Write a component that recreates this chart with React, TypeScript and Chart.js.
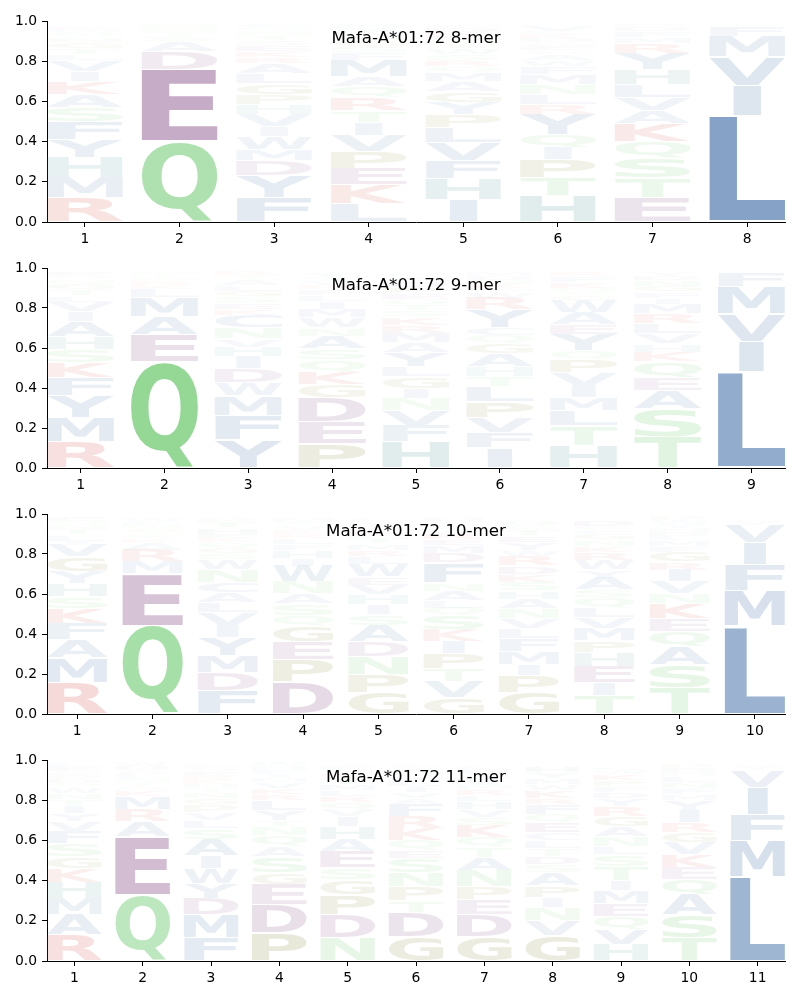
import React, { useEffect, useRef } from "react";
import { Chart, registerables } from "chart.js";

Chart.register(...registerables);

type Stack = [string, number][];

const titles = ["Mafa-A*01:72 8-mer", "Mafa-A*01:72 9-mer", "Mafa-A*01:72 10-mer", "Mafa-A*01:72 11-mer"];
const yTicks = [0, 0.2, 0.4, 0.6, 0.8, 1.0];

// Each position: letters from bottom to top with their heights (probabilities)
const mer8: Stack[] = [
  [["R", .12], ["M", .10], ["H", .10], ["Y", .09], ["F", .09], ["S", .07], ["A", .065], ["K", .065], ["I", .05], ["V", .055], ["L", .03], ["T", .03], ["G", .03], ["N", .025], ["Q", .02], ["W", .015], ["E", .015], ["C", .01]],
  [["Q", .40], ["E", .36], ["D", .09], ["A", .05], ["S", .025], ["T", .02], ["N", .02], ["G", .015], ["M", .01]],
  [["F", .12], ["Y", .11], ["D", .075], ["M", .055], ["W", .065], ["I", .05], ["V", .06], ["H", .05], ["P", .05], ["G", .055], ["L", .05], ["A", .05], ["R", .03], ["K", .03], ["E", .03], ["S", .025], ["T", .025], ["N", .02], ["Q", .02], ["C", .015]],
  [["L", .09], ["K", .095], ["E", .08], ["P", .085], ["V", .08], ["I", .065], ["T", .06], ["R", .065], ["Q", .055], ["A", .05], ["M", .08], ["F", .04], ["S", .03], ["G", .03], ["N", .02], ["W", .02], ["Y", .02], ["H", .02]],
  [["I", .11], ["H", .105], ["F", .09], ["V", .09], ["L", .075], ["P", .065], ["Y", .06], ["G", .055], ["A", .05], ["M", .045], ["Q", .03], ["R", .03], ["S", .03], ["W", .03], ["T", .02], ["N", .02], ["E", .02], ["K", .02], ["D", .02], ["C", .02]],
  [["H", .13], ["T", .09], ["P", .09], ["I", .06], ["Q", .065], ["Y", .10], ["R", .05], ["L", .05], ["N", .05], ["M", .05], ["F", .04], ["W", .03], ["A", .03], ["S", .02], ["E", .02], ["G", .02], ["D", .02], ["K", .02], ["C", .015], ["V", .03]],
  [["E", .12], ["T", .10], ["S", .10], ["Q", .08], ["K", .09], ["A", .065], ["V", .065], ["L", .065], ["H", .075], ["Y", .08], ["R", .05], ["M", .03], ["F", .03], ["D", .02], ["G", .02]],
  [["L", .53], ["I", .15], ["V", .145], ["M", .10], ["F", .05], ["Y", .01], ["C", .01]],
];

const mer9: Stack[] = [
  [["R", .13], ["M", .12], ["Y", .11], ["F", .09], ["K", .075], ["S", .065], ["H", .065], ["A", .075], ["I", .05], ["V", .05], ["L", .03], ["T", .03], ["G", .03], ["N", .02], ["Q", .02], ["E", .02]],
  [["Q", .53], ["E", .135], ["A", .09], ["M", .095], ["L", .045], ["K", .02], ["R", .02], ["S", .02], ["T", .015], ["N", .015]],
  [["Y", .14], ["F", .12], ["M", .10], ["W", .065], ["D", .07], ["I", .06], ["H", .05], ["V", .04], ["N", .055], ["C", .065], ["K", .03], ["E", .03], ["S", .03], ["G", .03], ["L", .03], ["A", .03], ["T", .02], ["R", .02]],
  [["P", .12], ["E", .11], ["D", .12], ["G", .065], ["K", .065], ["Q", .06], ["S", .055], ["A", .065], ["N", .04], ["W", .05], ["M", .045], ["I", .04], ["L", .03], ["F", .03], ["R", .02], ["V", .02], ["T", .02], ["Y", .02]],
  [["H", .13], ["F", .08], ["V", .075], ["N", .06], ["I", .05], ["G", .06], ["L", .05], ["Y", .07], ["A", .05], ["M", .05], ["R", .04], ["K", .04], ["S", .03], ["T", .03], ["Q", .03], ["E", .03], ["P", .03], ["D", .03], ["W", .02], ["C", .02]],
  [["I", .10], ["F", .075], ["V", .075], ["P", .08], ["L", .075], ["T", .05], ["H", .05], ["A", .065], ["G", .05], ["Q", .04], ["C", .04], ["Y", .09], ["R", .06], ["W", .03], ["S", .02], ["K", .02], ["N", .02], ["D", .02], ["M", .02]],
  [["H", .11], ["T", .10], ["L", .075], ["M", .065], ["I", .06], ["V", .065], ["P", .065], ["Q", .045], ["Y", .08], ["E", .05], ["A", .06], ["W", .06], ["G", .025], ["S", .02], ["N", .02], ["K", .03], ["F", .03], ["R", .02]],
  [["T", .155], ["S", .14], ["A", .09], ["E", .065], ["Q", .08], ["K", .05], ["H", .04], ["V", .05], ["L", .05], ["R", .05], ["M", .05], ["I", .03], ["F", .03], ["G", .03], ["N", .03], ["D", .02], ["Y", .02]],
  [["L", .48], ["I", .15], ["V", .14], ["M", .135], ["F", .07], ["Y", .01]],
];

const mer10: Stack[] = [
  [["R", .155], ["M", .125], ["A", .09], ["F", .08], ["K", .075], ["S", .06], ["H", .065], ["Y", .06], ["G", .075], ["V", .06], ["I", .02], ["L", .03], ["T", .03], ["N", .02], ["Q", .02], ["E", .02]],
  [["Q", .44], ["E", .26], ["M", .06], ["R", .06], ["A", .035], ["K", .02], ["S", .02], ["T", .02], ["G", .015], ["N", .015], ["L", .015], ["W", .02]],
  [["F", .115], ["D", .09], ["M", .085], ["Y", .09], ["I", .06], ["V", .065], ["L", .05], ["A", .05], ["C", .05], ["N", .065], ["W", .05], ["S", .03], ["G", .03], ["Q", .03], ["K", .02], ["E", .02], ["H", .03], ["T", .03], ["P", .02]],
  [["D", .16], ["P", .11], ["E", .09], ["G", .08], ["Q", .05], ["S", .06], ["A", .05], ["N", .06], ["W", .08], ["I", .04], ["H", .04], ["F", .03], ["L", .03], ["R", .02], ["K", .02], ["V", .02], ["T", .02], ["M", .02]],
  [["G", .105], ["P", .09], ["N", .09], ["D", .075], ["A", .08], ["S", .055], ["I", .05], ["H", .05], ["V", .05], ["E", .04], ["W", .065], ["L", .04], ["R", .03], ["M", .03], ["T", .03], ["F", .02], ["K", .02], ["Q", .02], ["Y", .02], ["C", .02]],
  [["G", .08], ["V", .08], ["T", .065], ["P", .075], ["I", .06], ["K", .06], ["S", .07], ["Q", .04], ["L", .035], ["A", .05], ["N", .04], ["F", .10], ["D", .05], ["M", .04], ["E", .03], ["R", .03], ["W", .02], ["Y", .02], ["C", .02], ["H", .02]],
  [["G", .105], ["P", .085], ["I", .055], ["M", .065], ["F", .065], ["L", .05], ["V", .05], ["N", .05], ["A", .05], ["H", .04], ["S", .045], ["K", .04], ["D", .04], ["R", .05], ["W", .03], ["Y", .04], ["E", .03], ["T", .03], ["C", .02], ["Q", .03]],
  [["T", .09], ["I", .065], ["E", .08], ["H", .07], ["P", .06], ["M", .06], ["V", .055], ["L", .05], ["Q", .05], ["S", .04], ["A", .06], ["Y", .04], ["W", .05], ["R", .04], ["K", .03], ["N", .03], ["G", .03], ["F", .02], ["C", .02], ["D", .03]],
  [["T", .13], ["S", .115], ["A", .09], ["Q", .075], ["E", .065], ["K", .075], ["N", .05], ["V", .06], ["I", .06], ["R", .04], ["G", .05], ["F", .03], ["M", .03], ["L", .02], ["D", .02], ["H", .02], ["Y", .02], ["W", .02], ["P", .02]],
  [["L", .44], ["M", .175], ["F", .13], ["I", .11], ["V", .09], ["Y", .02], ["W", .01]],
];

const mer11: Stack[] = [
  [["R", .13], ["A", .10], ["M", .08], ["H", .08], ["K", .07], ["G", .06], ["S", .065], ["F", .06], ["V", .05], ["Y", .04], ["I", .04], ["T", .03], ["N", .03], ["W", .03], ["Q", .02], ["D", .02], ["P", .02], ["C", .02], ["E", .02], ["L", .02]],
  [["Q", .33], ["E", .29], ["A", .075], ["R", .06], ["M", .065], ["K", .03], ["S", .02], ["T", .02], ["N", .02], ["L", .02], ["G", .02], ["D", .02], ["W", .02]],
  [["F", .115], ["M", .115], ["D", .08], ["Y", .075], ["W", .075], ["I", .065], ["A", .08], ["S", .055], ["L", .04], ["V", .04], ["P", .04], ["G", .03], ["N", .03], ["T", .02], ["H", .02], ["K", .02], ["R", .02], ["E", .02], ["Q", .02], ["C", .02]],
  [["P", .14], ["D", .14], ["E", .10], ["G", .06], ["S", .08], ["A", .05], ["Q", .055], ["N", .045], ["T", .03], ["Y", .05], ["L", .05], ["R", .03], ["K", .03], ["V", .03], ["M", .02], ["I", .02], ["F", .02], ["H", .02], ["W", .02]],
  [["N", .115], ["D", .115], ["P", .10], ["G", .075], ["S", .06], ["E", .08], ["A", .06], ["H", .065], ["I", .05], ["V", .035], ["Q", .035], ["R", .03], ["L", .03], ["M", .03], ["T", .03], ["K", .02], ["Y", .02], ["F", .02], ["W", .01]],
  [["G", .12], ["D", .12], ["T", .06], ["P", .07], ["N", .07], ["S", .07], ["E", .04], ["Q", .05], ["K", .06], ["R", .06], ["F", .06], ["A", .03], ["V", .03], ["I", .03], ["L", .03], ["M", .02], ["H", .02], ["Y", .02], ["C", .02]],
  [["G", .12], ["D", .11], ["E", .075], ["P", .065], ["N", .08], ["A", .065], ["T", .05], ["Q", .05], ["K", .06], ["S", .04], ["V", .04], ["H", .04], ["L", .03], ["R", .03], ["M", .02], ["I", .02], ["F", .02], ["Y", .02], ["W", .02], ["C", .02]],
  [["G", .125], ["V", .075], ["N", .065], ["I", .05], ["P", .06], ["A", .065], ["S", .04], ["D", .04], ["T", .04], ["L", .04], ["C", .04], ["E", .05], ["Q", .04], ["F", .05], ["R", .03], ["K", .04], ["W", .03], ["M", .03], ["Y", .03], ["H", .03]],
  [["H", .08], ["V", .075], ["Q", .065], ["E", .065], ["M", .065], ["I", .05], ["T", .07], ["S", .06], ["L", .04], ["N", .05], ["A", .05], ["G", .05], ["R", .05], ["Y", .04], ["D", .03], ["F", .03], ["P", .03], ["K", .03], ["W", .02], ["C", .02]],
  [["T", .115], ["S", .115], ["A", .10], ["Q", .075], ["E", .06], ["K", .065], ["V", .06], ["G", .05], ["R", .05], ["I", .06], ["Y", .05], ["M", .03], ["F", .03], ["N", .03], ["L", .03], ["H", .02], ["D", .02], ["P", .02]],
  [["L", .42], ["M", .18], ["F", .13], ["I", .135], ["V", .085], ["Y", .02], ["W", .01]],
];

const panels: Stack[][] = [mer8, mer9, mer10, mer11];

// ---- styling ----
const FONT = "'DejaVu Sans', sans-serif";
const PANEL_H = 246;
const PANEL_TOPS = [0, 246, 492, 738];
const PAD_TOP = [21, 22, 22, 22];
const X_AXIS_H = [24, 24, 24, 23];

const BLUE = [72, 116, 170];
const GREEN = [95, 196, 97];
const PURPLE = [130, 71, 130];
const RED = [205, 65, 55];
const TEAL = [70, 140, 140];
const OLIVE = [130, 130, 50];
const colorOf = (ch: string): number[] => {
  if ("AVLIMFWYC".includes(ch)) return BLUE;
  if ("STNQ".includes(ch)) return GREEN;
  if ("DE".includes(ch)) return PURPLE;
  if ("KR".includes(ch)) return RED;
  if (ch === "H") return TEAL;
  return OLIVE;
};

const metricsCache: Record<string, { left: number; right: number; ascent: number; descent: number }> = {};
function glyphMetrics(ctx: CanvasRenderingContext2D, ch: string) {
  if (metricsCache[ch]) return metricsCache[ch];
  ctx.save();
  ctx.font = `bold 200px ${FONT}`;
  const m = ctx.measureText(ch);
  ctx.restore();
  const r = {
    left: m.actualBoundingBoxLeft,
    right: m.actualBoundingBoxRight,
    ascent: m.actualBoundingBoxAscent,
    descent: m.actualBoundingBoxDescent,
  };
  metricsCache[ch] = r;
  return r;
}

const logoPlugin = {
  id: "logo",
  afterDatasetsDraw(chart: any, _args: any, opts: any) {
    const { ctx, chartArea, scales } = chart;
    const stacks: Stack[] = opts.stacks;
    const xs = scales.x;
    const ys = scales.y;
    const em = glyphMetrics(ctx, "E");
    const eW = em.left + em.right;
    stacks.forEach((stack, i) => {
      const pos = i + 1;
      const xl = xs.getPixelForValue(pos - 0.4);
      const xr = xs.getPixelForValue(pos + 0.4);
      const boxW = xr - xl;
      const maxSx = boxW / eW;
      let cum = 0;
      stack.forEach(([ch, v]) => {
        const yb = ys.getPixelForValue(cum);
        const yt = ys.getPixelForValue(cum + v);
        cum += v;
        const h = yb - yt;
        const pad = 0.4 + 0.012 * h;
        const top = yt + pad;
        const gh = yb - pad - top;
        if (gh <= 0.2) return;
        const m = glyphMetrics(ctx, ch);
        const gw = m.left + m.right;
        const gH = m.ascent + m.descent;
        const sx = Math.min(boxW / gw, maxSx);
        const sy = gh / gH;
        const x0 = (xl + xr) / 2 - (gw * sx) / 2;
        const c = colorOf(ch);
        const alpha = Math.min(0.9, v * 1.25);
        ctx.save();
        ctx.translate(x0, top);
        ctx.scale(sx, sy);
        ctx.font = `bold 200px ${FONT}`;
        ctx.textAlign = "left";
        ctx.textBaseline = "alphabetic";
        ctx.fillStyle = `rgba(${c[0]},${c[1]},${c[2]},${alpha})`;
        ctx.fillText(ch, m.left, m.ascent);
        ctx.restore();
      });
    });
    ctx.save();
    ctx.font = `16.67px ${FONT}`;
    ctx.fillStyle = "#000";
    ctx.textAlign = "center";
    ctx.textBaseline = "alphabetic";
    ctx.fillText(opts.title, (chartArea.left + chartArea.right) / 2, chartArea.top + 21.5);
    ctx.restore();
  },
};

function LogoPanel({ index }: { index: number }) {
  const ref = useRef<HTMLCanvasElement | null>(null);
  useEffect(() => {
    if (!ref.current) return;
    const stacks = panels[index];
    const n = stacks.length;
    const positions = stacks.map((_, i) => i + 1);
    const tickFont = { family: FONT, size: 13.9 };
    const chart = new Chart(ref.current, {
      type: "scatter",
      data: { datasets: [{ data: [] }] },
      options: {
        responsive: false,
        animation: false,
        devicePixelRatio: 1,
        layout: { padding: { left: 0, right: 15, top: PAD_TOP[index], bottom: 0 } },
        plugins: {
          legend: { display: false },
          tooltip: { enabled: false },
          logo: { stacks, title: titles[index] },
        } as any,
        scales: {
          x: {
            type: "linear",
            min: 0.6,
            max: n + 0.4,
            afterBuildTicks: (s: any) => {
              s.ticks = positions.map((v) => ({ value: v }));
            },
            afterFit: (s: any) => {
              s.height = X_AXIS_H[index];
            },
            ticks: {
              callback: (v: any) => String(v),
              font: tickFont,
              color: "#000",
              padding: 4,
              maxRotation: 0,
              autoSkip: false,
            },
            grid: { drawOnChartArea: false, drawTicks: true, tickLength: 5, tickColor: "#000", tickWidth: 1 },
            border: { display: true, color: "#000", width: 1 },
          },
          y: {
            type: "linear",
            min: 0,
            max: 1,
            afterBuildTicks: (s: any) => {
              s.ticks = yTicks.map((v) => ({ value: v }));
            },
            afterFit: (s: any) => {
              s.width = 47;
            },
            ticks: {
              callback: (v: any) => Number(v).toFixed(1),
              font: tickFont,
              color: "#000",
              padding: 5,
            },
            grid: { drawOnChartArea: false, drawTicks: true, tickLength: 5, tickColor: "#000", tickWidth: 1 },
            border: { display: true, color: "#000", width: 1 },
          },
        },
      } as any,
      plugins: [logoPlugin],
    });
    return () => chart.destroy();
  }, [index]);
  return (
    <canvas
      ref={ref}
      width={800}
      height={PANEL_H}
      style={{ position: "absolute", left: 0, top: PANEL_TOPS[index], width: 800, height: PANEL_H, display: "block" }}
    />
  );
}

export default function App() {
  return (
    <div style={{ position: "absolute", left: 0, top: 0, width: 800, height: 1000, background: "#fff" }}>
      {panels.map((_, i) => (
        <LogoPanel key={i} index={i} />
      ))}
    </div>
  );
}
